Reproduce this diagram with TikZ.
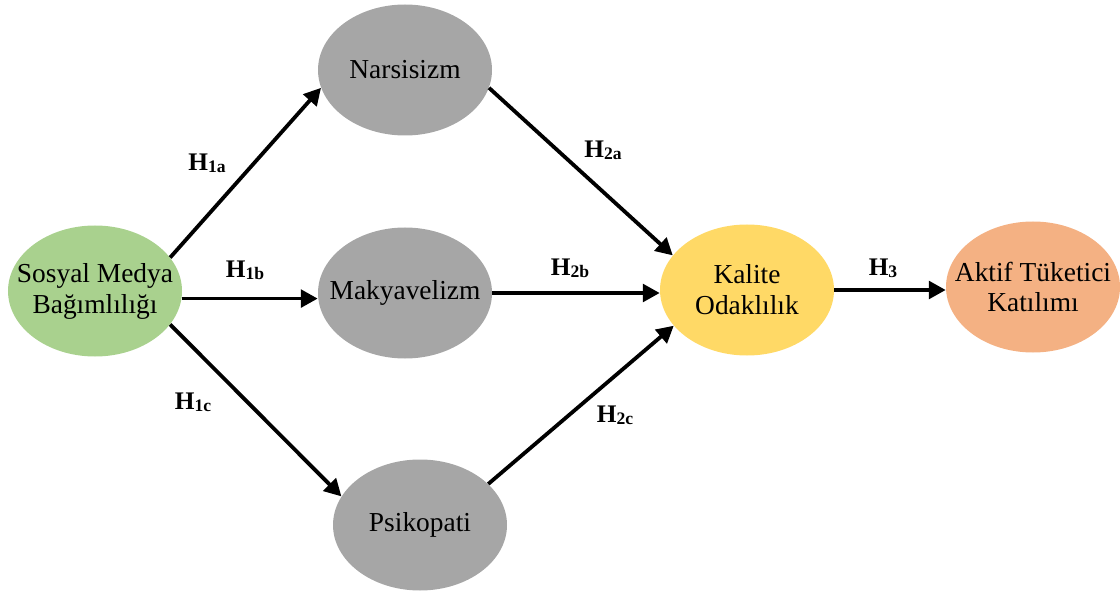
\documentclass[tikz,border=0pt]{standalone}
\usepackage{fontspec}
\setmainfont{Liberation Serif}
\usepackage{tikz}
\usepackage{xcolor}
\usetikzlibrary{shapes.geometric, arrows.meta}
\definecolor{smgreen}{HTML}{A9D18E}
\definecolor{darkgrey}{HTML}{A6A6A6}
\definecolor{kyellow}{HTML}{FFD966}
\definecolor{korange}{HTML}{F4B183}
\newcommand{\hyp}[1]{\textbf{H\raisebox{-1.5pt}{\fontsize{12.5}{12.5}\selectfont #1}}}
\tikzstyle{every node}=[font=\fontsize{19.5}{22}\selectfont]
\tikzstyle{construct} = [ellipse, fill=darkgrey, inner sep=0pt, minimum width=4.35cm, minimum height=3.275cm]
\tikzstyle{line} = [draw, line width=2.7pt, -{Triangle[length=12pt, width=12.5pt]}]
\tikzstyle{hlabel} = [font=\fontsize{18}{20}\selectfont, inner sep=0pt]

\begin{document}
\begin{tikzpicture}
    \useasboundingbox (0,0) rectangle (28,14.8);
    % Place nodes
    \node [construct, fill=smgreen, label={[align=center]center:Sosyal Medya\\Bağımlılığı}] (sosyal) at (2.375,7.525) {};
    \node [construct, label=center:Narsisizm] (narsisizm) at (10.125,13.05) {};
    \node [construct, label=center:Makyavelizm] (makyavelizm) at (10.125,7.475) {};
    \node [construct, label=center:Psikopati] (psikopati) at (10.5,1.675) {};
    \node [construct, fill=kyellow, label={[align=center]center:Kalite\\Odaklılık}] (kalite) at (18.675,7.55) {};
    \node [construct, fill=korange, label={[align=center]center:Aktif Tüketici\\Katılımı}] (aktif) at (25.825,7.625) {};
    % Hypothesis labels
    \node [hlabel] (h1a) at (5.175,10.725) {\hyp{1a}};
    \node [hlabel] (h1b) at (6.125,8.05) {\hyp{1b}};
    \node [hlabel] (h1c) at (4.825,4.75) {\hyp{1c}};
    \node [hlabel] (h2a) at (15.075,11.05) {\hyp{2a}};
    \node [hlabel] (h2b) at (14.25,8.1) {\hyp{2b}};
    \node [hlabel] (h2c) at (15.375,4.425) {\hyp{2c}};
    \node [hlabel] (h3) at (22.075,8.1) {\hyp{3}};
    % Draw edges
    \path [line] (sosyal.24) -- (narsisizm.192);
    \path [line] (sosyal.-5) -- (sosyal.-5 -| makyavelizm.west);
    \path [line] (sosyal.-24) -- (psikopati.160);
    \path [line] (narsisizm.-12) -- (kalite.155);
    \path [line] (makyavelizm.east) -- (makyavelizm.east -| kalite.west);
    \path [line] (psikopati.31) -- (kalite.206);
    \path [line] (kalite.east) -- (kalite.east -| aktif.west);
\end{tikzpicture}
\end{document}
